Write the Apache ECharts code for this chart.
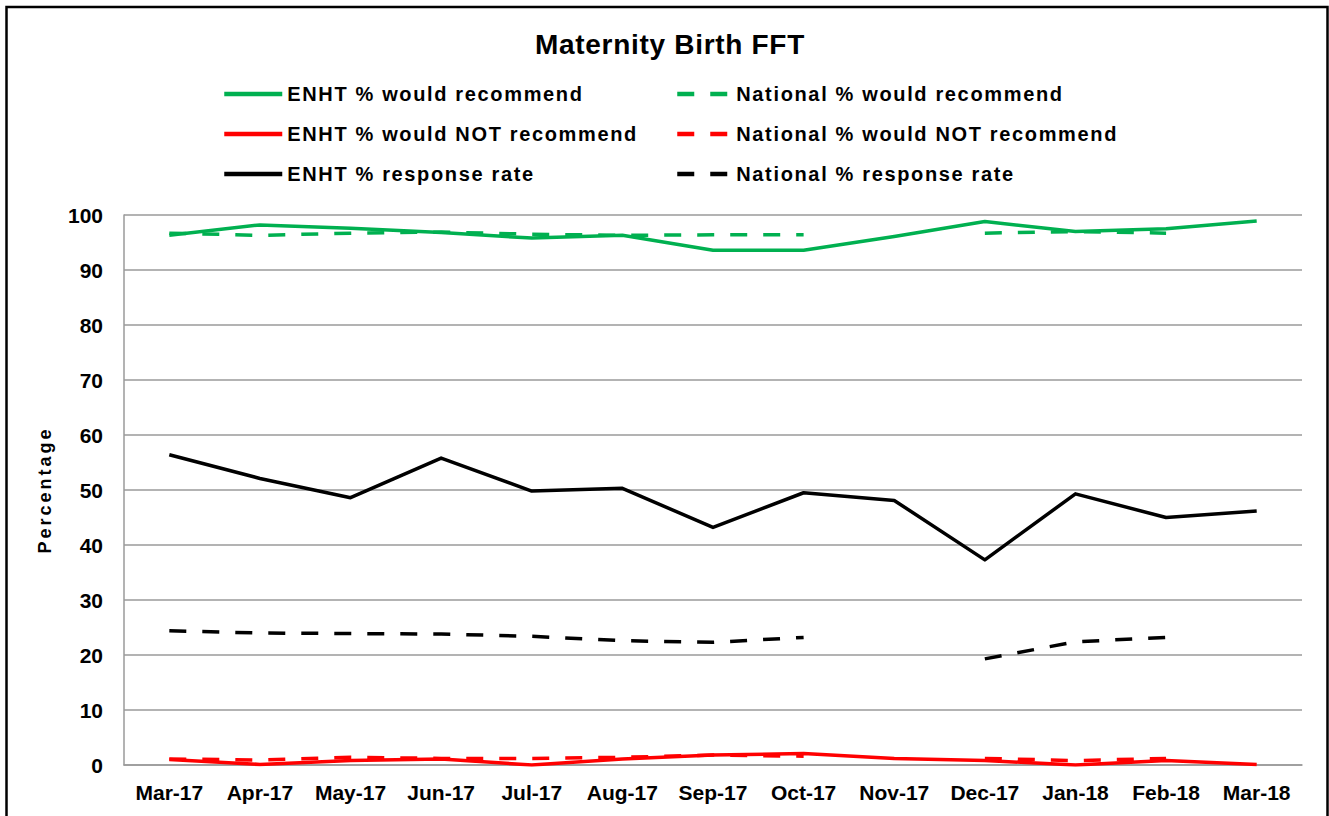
<!DOCTYPE html>
<html>
<head>
<meta charset="utf-8">
<title>Maternity Birth FFT</title>
<script src="https://cdn.jsdelivr.net/npm/echarts@6/dist/echarts.min.js"></script>
<style>
  html, body { margin: 0; padding: 0; background: #ffffff; }
  #chart { width: 1329px; height: 816px; }
  /* wider tracking for the legend and axis title text */
  #chart text[style*="20px"] { letter-spacing: 1.65px; }
  #chart text[style*="18px"] { letter-spacing: 3px; }
  #chart text[style*="28px"] { letter-spacing: 0.7px; }
</style>
</head>
<body>
<div id="chart"></div>
<script>
// Months on the category axis
const months = ['Mar-17', 'Apr-17', 'May-17', 'Jun-17', 'Jul-17', 'Aug-17', 'Sep-17',
                'Oct-17', 'Nov-17', 'Dec-17', 'Jan-18', 'Feb-18', 'Mar-18'];

// Trust (ENHT) figures, percent
const enhtRecommend    = [96.3, 98.2, 97.6, 96.8, 95.8, 96.3, 93.6, 93.6, 96.1, 98.8, 97.0, 97.5, 98.9];
const enhtNotRecommend = [1.0, 0.1, 0.8, 1.1, 0.0, 1.1, 1.8, 2.1, 1.2, 0.8, 0.0, 0.8, 0.1];
const enhtResponse     = [56.4, 52.1, 48.6, 55.8, 49.8, 50.3, 43.2, 49.5, 48.1, 37.3, 49.3, 45.0, 46.2];

// National figures, percent (no national data for Nov-17 and Mar-18)
const natRecommend    = [96.7, 96.3, 96.7, 96.9, 96.5, 96.3, 96.4, 96.4, null, 96.7, 97.0, 96.7, null];
const natNotRecommend = [1.1, 0.9, 1.4, 1.2, 1.2, 1.4, 1.8, 1.6, null, 1.2, 0.8, 1.2, null];
const natResponse     = [24.4, 24.0, 23.9, 23.8, 23.4, 22.6, 22.3, 23.2, null, 19.3, 22.4, 23.2, null];

// Y axis ticks
const yMin = 0, yMax = 100, yStep = 10;

const GREEN = '#00B050', RED = '#FF0000', BLACK = '#000000';
const FONT = 'Arial, "Liberation Sans", sans-serif';
const DASH = [17, 16];
const LINE_W = 3.5;

function lineSeries(name, data, color, dashed) {
  return {
    name: name,
    type: 'line',
    data: data,
    symbol: 'none',
    connectNulls: false,
    animation: false,
    lineStyle: { color: color, width: LINE_W, type: dashed ? DASH : 'solid', cap: 'butt', join: 'round' },
    itemStyle: { color: color },
    emphasis: { disabled: true }
  };
}

const chart = echarts.init(document.getElementById('chart'), null, { renderer: 'svg' });

const legendText = { fontFamily: FONT, fontWeight: 'bold', fontSize: 20, color: '#000', lineHeight: 20 };
// legend keys show only the line stroke, no point marker
const legendMarker = { opacity: 0, borderWidth: 0 };
const legendStroke = { width: 4.5 };

chart.setOption({
  backgroundColor: '#ffffff',
  animation: false,
  title: {
    text: 'Maternity Birth FFT',
    left: 665,
    textAlign: 'center',
    top: 25,
    textStyle: { fontFamily: FONT, fontWeight: 'bold', fontSize: 28, color: '#000' }
  },
  graphic: [{
    type: 'rect',
    shape: { x: 6.5, y: 7, width: 1321, height: 840 },
    style: { fill: 'none', stroke: '#000', lineWidth: 2.5 },
    silent: true
  }],
  legend: [{
    orient: 'vertical',
    left: 217,
    top: 79,
    itemWidth: 58,
    itemHeight: 20,
    itemGap: 20,
    selectedMode: false,
    itemStyle: legendMarker,
    lineStyle: legendStroke,
    data: ['ENHT % would recommend', 'ENHT % would NOT recommend', 'ENHT % response rate'],
    textStyle: legendText
  }, {
    orient: 'vertical',
    left: 670,
    top: 79,
    itemWidth: 54,
    itemHeight: 20,
    itemGap: 20,
    selectedMode: false,
    itemStyle: legendMarker,
    lineStyle: legendStroke,
    data: ['National % would recommend', 'National % would NOT recommend', 'National % response rate'],
    textStyle: legendText
  }],
  grid: { left: 124, right: 27, top: 215, bottom: 51, containLabel: false },
  xAxis: {
    type: 'category',
    data: months,
    boundaryGap: true,
    axisLine: { show: true, lineStyle: { color: '#9a9a9a', width: 1.5 } },
    axisTick: { show: false },
    axisLabel: { fontFamily: FONT, fontWeight: 'bold', fontSize: 21, color: '#000', margin: 17, interval: 0 },
    splitLine: { show: false }
  },
  yAxis: {
    type: 'value',
    min: yMin,
    max: yMax,
    interval: yStep,
    name: 'Percentage',
    nameLocation: 'middle',
    nameRotate: 90,
    nameGap: 70,
    nameTextStyle: { fontFamily: FONT, fontWeight: 'bold', fontSize: 18, color: '#000' },
    axisLine: { show: true, lineStyle: { color: '#9a9a9a', width: 1.5 } },
    axisTick: { show: false },
    axisLabel: { fontFamily: FONT, fontWeight: 'bold', fontSize: 21, color: '#000', margin: 21 },
    splitLine: { show: true, lineStyle: { color: '#9a9a9a', width: 1.5 } }
  },
  series: [
    lineSeries('ENHT % would recommend', enhtRecommend, GREEN, false),
    lineSeries('National % would recommend', natRecommend, GREEN, true),
    lineSeries('ENHT % would NOT recommend', enhtNotRecommend, RED, false),
    lineSeries('National % would NOT recommend', natNotRecommend, RED, true),
    lineSeries('ENHT % response rate', enhtResponse, BLACK, false),
    lineSeries('National % response rate', natResponse, BLACK, true)
  ]
});
</script>
</body>
</html>
